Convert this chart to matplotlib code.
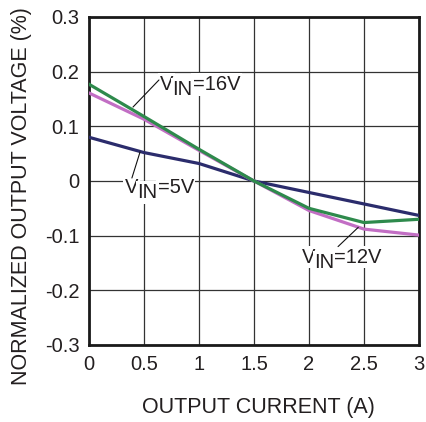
import matplotlib
matplotlib.use("Agg")
import matplotlib.pyplot as plt

plt.rcParams['font.family'] = ['Liberation Sans', 'DejaVu Sans']

current = [0, 0.5, 1, 1.5, 2, 2.5, 3]
vin5 = [0.080, 0.052, 0.032, 0.0, -0.021, -0.042, -0.063]
vin12 = [0.161, 0.113, 0.056, 0.0, -0.054, -0.088, -0.099]
vin16 = [0.177, 0.118, 0.058, 0.0, -0.050, -0.076, -0.070]
xticks = [0, 0.5, 1, 1.5, 2, 2.5, 3]
xtick_labels = ['0', '0.5', '1', '1.5', '2', '2.5', '3']
yticks = [-0.3, -0.2, -0.1, 0, 0.1, 0.2, 0.3]
ytick_labels = ['-0.3', '-0.2', '-0.1', '0', '0.1', '0.2', '0.3']

TXT = '#231f20'
fig = plt.figure(figsize=(4.26, 4.22), dpi=100)
ax = fig.add_axes([89/426, 77/422, 330/426, 328/422])

ax.plot(current, vin5, color='#2b2c6c', lw=2.3, zorder=3)
ax.plot(current, vin12, color='#c26ec4', lw=2.3, zorder=3)
ax.plot(current, vin16, color='#2e8a4c', lw=2.3, zorder=4)

ax.set_xlim(0, 3)
ax.set_ylim(-0.3, 0.3)
ax.set_xticks(xticks)
ax.set_xticklabels(xtick_labels)
ax.set_yticks(yticks)
ax.set_yticklabels(ytick_labels)
ax.tick_params(length=0, labelsize=14.5, colors=TXT, pad=7)
ax.grid(True, color='#333333', lw=0.9)
for s in ax.spines.values():
    s.set_linewidth(2.0)
    s.set_color('#1a1a1a')

fig.text(258/426, 1 - 407/422, 'OUTPUT CURRENT (A)', fontsize=15.5, color=TXT,
         ha='center', va='center')
fig.text(22/426, 1 - 196/422, 'NORMALIZED OUTPUT VOLTAGE (%)', fontsize=15.5,
         color=TXT, ha='center', va='center', rotation=90)

FS = 14.5
def label(rest, pos, line_from, line_to):
    bb = dict(facecolor='white', edgecolor='none', pad=1.2)
    t1 = ax.text(pos[0], pos[1], 'V', fontsize=FS, color=TXT, ha='left',
                 va='baseline', bbox=bb, zorder=5)
    t2 = ax.annotate('IN', xy=(1, 0), xycoords=t1, xytext=(-0.6, -3.6),
                     textcoords='offset points', fontsize=FS, color=TXT,
                     ha='left', va='bottom', bbox=bb, zorder=5)
    ax.annotate(rest, xy=(1, 0), xycoords=t2, xytext=(0.0, 3.6),
                textcoords='offset points', fontsize=FS, color=TXT,
                ha='left', va='bottom', bbox=bb, zorder=5)
    ax.annotate('', xy=line_to, xytext=line_from,
                arrowprops=dict(arrowstyle='-', color='#111111', lw=0.8,
                                shrinkA=0, shrinkB=0), zorder=6)

label('=16V', (0.645, 0.1665), (0.636, 0.1848), (0.40, 0.1353))
label('=5V', (0.327, -0.022), (0.39, 0.0055), (0.464, 0.053))
label('=12V', (1.934, -0.1495), (2.264, -0.120), (2.448, -0.0847))

fig.savefig('out.png', dpi=100)
